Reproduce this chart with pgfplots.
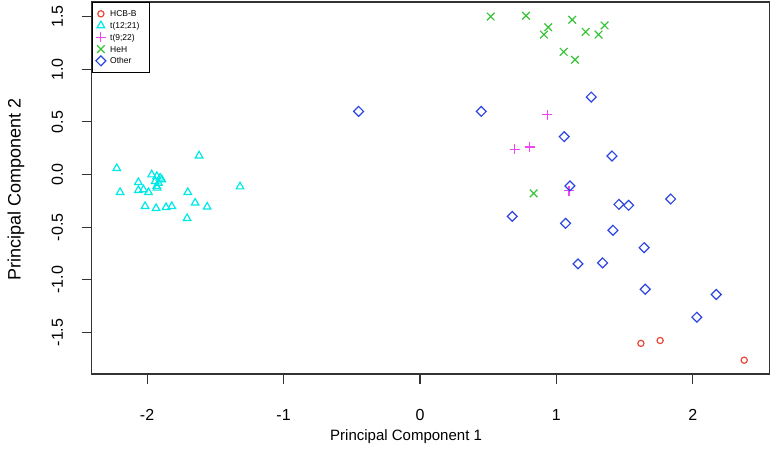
\documentclass[border=0pt]{standalone}
\usepackage{fontspec}
\setmainfont{Liberation Sans}
\usepackage{pgfplots}
\pgfplotsset{compat=1.18}
\definecolor{cRed}{RGB}{232,72,56}
\definecolor{cCyan}{RGB}{0,232,232}
\definecolor{cMag}{RGB}{240,70,240}
\definecolor{cGreen}{RGB}{55,195,55}
\definecolor{cBlue}{RGB}{45,70,225}
\begin{document}
\begin{tikzpicture}
\useasboundingbox (0,0) rectangle (772pt,471pt);
\begin{axis}[
  at={(91.7pt,97pt)}, anchor=south west,
  scale only axis, width=677.6pt, height=372pt,
  xmin=-2.406, xmax=2.56, ymin=-1.894, ymax=1.639,
  xtick={-2,-1,0,1,2}, xticklabels={-2,-1,0,1,2},
  ytick={-1.5,-1,-0.5,0,0.5,1,1.5},
  yticklabels={-1.5,-1.0,-0.5,0.0,0.5,1.0,1.5},
  tick align=outside, xtick pos=bottom, ytick pos=left,
  major tick length=10pt,
  axis line style={black!80, line width=1.1pt},
  tick style={black!80, line width=1.1pt},
  xticklabel style={font=\fontsize{16}{16}\selectfont, anchor=base, yshift=-36pt},
  yticklabel style={font=\fontsize{16}{16}\selectfont, xshift=-18.7pt, rotate=90, anchor=base},
  xlabel={Principal Component 1},
  ylabel={Principal Component 2},
  xlabel style={font=\fontsize{15}{15}\selectfont, at={(axis description cs:0.464,-0.1793)}, anchor=base},
  ylabel style={font=\fontsize{18}{18}\selectfont, at={(axis description cs:-0.1048,0.495)}, rotate=0, anchor=base},
  legend style={
    at={(0,1)}, anchor=north west,
    draw=black, line width=0.9pt, fill=white,
    inner xsep=3.3pt, inner ysep=5.5pt,
    row sep=0pt, column sep=3.8pt,
    nodes={inner sep=0pt, text height=8.9pt, text depth=2.85pt, text width=36pt},
    font=\fontsize{8.5}{10}\selectfont,
  },
  legend cell align=left,
  legend image code/.code={\path (0pt,0pt) (10pt,0pt); \draw[#1] plot coordinates {(5pt,0pt)};},
]
\addplot[only marks, mark=o, color=cRed, mark size=3.1pt, mark options={line width=1.2pt}] coordinates {
(1.619,-1.603) (1.760,-1.576) (2.376,-1.763)
};
\addlegendentry{HCB-B}
\addplot[only marks, mark=triangle, color=cCyan, mark size=4.4pt, mark options={line width=1.2pt}] coordinates {
(-2.222,0.059) (-2.198,-0.169) (-1.619,0.179) (-1.319,-0.115)
(-2.064,-0.074) (-2.064,-0.150) (-2.027,-0.143) (-1.990,-0.169)
(-1.966,-0.001) (-1.929,-0.017) (-1.905,-0.032) (-1.892,-0.048)
(-1.941,-0.065) (-1.917,-0.080) (-1.929,-0.112) (-1.927,-0.127)
(-1.702,-0.169) (-1.648,-0.269) (-1.560,-0.307) (-2.015,-0.302)
(-1.934,-0.321) (-1.861,-0.311) (-1.819,-0.302) (-1.707,-0.416)
};
\addlegendentry{t(12;21)}
\addplot[only marks, mark=+, color=cMag, mark size=5pt, mark options={line width=1.2pt}] coordinates {
(0.933,0.568) (0.694,0.239) (0.803,0.262) (1.092,-0.153)
};
\addlegendentry{t(9;22)}
\addplot[only marks, mark=x, color=cGreen, mark size=5.4pt, mark options={line width=1.2pt}] coordinates {
(0.518,1.501) (0.777,1.508) (0.940,1.400) (1.116,1.470)
(0.908,1.330) (1.214,1.356) (1.353,1.416) (1.309,1.330)
(1.053,1.166) (1.136,1.090) (0.833,-0.178)
};
\addlegendentry{HeH}
\addplot[only marks, mark=square, color=cBlue, mark size=3.5pt, mark options={line width=1.2pt, rotate=45}] coordinates {
(-0.450,0.600) (0.449,0.600) (1.255,0.736) (1.057,0.360)
(1.407,0.176) (1.099,-0.108) (0.676,-0.397) (1.067,-0.463)
(1.458,-0.283) (1.529,-0.292) (1.837,-0.232) (1.414,-0.529)
(1.643,-0.694) (1.158,-0.848) (1.338,-0.839) (1.651,-1.089)
(2.171,-1.139) (2.029,-1.355)
};
\addlegendentry{Other}
\end{axis}
\end{tikzpicture}
\end{document}
